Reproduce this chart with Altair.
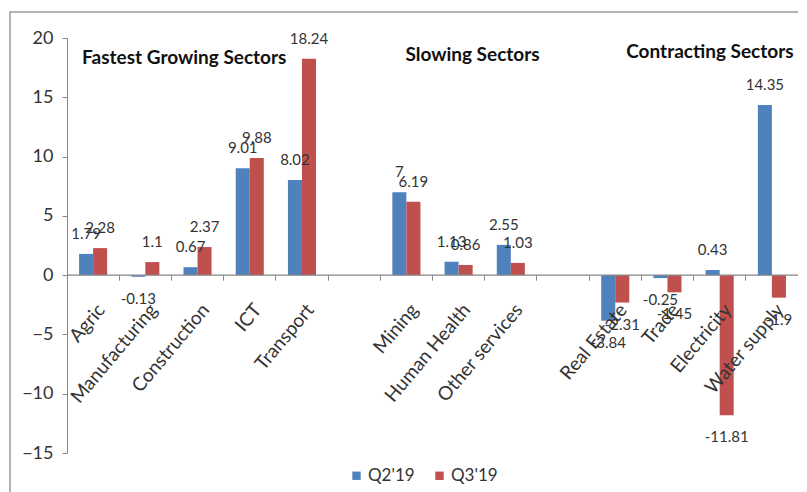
import altair as alt
import pandas as pd

sectors = ["Agric", "Manufacturing", "Construction", "ICT", "Transport",
           "Mining", "Human Health", "Other services",
           "Real Estate", "Trade", "Electricity", "Water supply"]
q2 = [1.79, -0.13, 0.67, 9.01, 8.02, 7, 1.13, 2.55, -3.84, -0.25, 0.43, 14.35]
q3 = [2.28, 1.1, 2.37, 9.88, 18.24, 6.19, 0.86, 1.03, -2.31, -1.45, -11.81, -1.9]
series = ["Q2'19", "Q3'19"]
colors = ["#4F81BD", "#C0504D"]
x_domain = sectors[:5] + ["gap_a"] + sectors[5:8] + ["gap_b"] + sectors[8:]
group_titles = ["Fastest Growing Sectors", "Slowing Sectors", "Contracting Sectors"]
group_anchor = ["Agric", "Mining", "Real Estate"]
y_ticks = [-15, -10, -5, 0, 5, 10, 15, 20]

rows = []
for s, a, b in zip(sectors, q2, q3):
    rows.append({"sector": s, "series": series[0], "value": a, "label": f"{a:g}"})
    rows.append({"sector": s, "series": series[1], "value": b, "label": f"{b:g}"})
df = pd.DataFrame(rows)
cat_df = pd.DataFrame({"sector": sectors, "zero": [0] * len(sectors)})

W, H = 731, 415
FONT = "Lato"
GRAY = "#868686"
TXT = "#333333"

xs = alt.Scale(domain=x_domain, paddingInner=0, paddingOuter=0)
x = alt.X("sector:N", scale=xs,
          axis=alt.Axis(labels=False, ticks=True, tickSize=5, bandPosition=0,
                        domain=False, offset=-H * 15 / 35, title=None,
                        tickColor=GRAY))
ys = alt.Scale(domain=[-15, 20], nice=False, zero=False)
y = alt.Y("value:Q", scale=ys,
          axis=alt.Axis(values=y_ticks, grid=False, title=None, tickSize=5,
                        labelPadding=9, labelFontSize=18, labelFont=FONT,
                        domainColor=GRAY, tickColor=GRAY, labelColor=TXT))
xo = alt.XOffset("series:N", scale=alt.Scale(domain=series, paddingInner=0, paddingOuter=0.86))

frame = alt.Chart(pd.DataFrame({"a": [0]})).mark_rect(
    fill="transparent", stroke="#9a9a9a", strokeWidth=1.5
).encode(x=alt.value(-57), x2=alt.value(780), y=alt.value(-26), y2=alt.value(500))

bars = alt.Chart(df).mark_bar().encode(
    x=x, y=y, xOffset=xo,
    color=alt.Color("series:N", scale=alt.Scale(domain=series, range=colors),
                    legend=alt.Legend(title=None, orient="none", legendX=281, legendY=429,
                                      direction="horizontal", symbolType="square",
                                      symbolSize=70, labelFontSize=17, labelFont=FONT,
                                      labelColor=TXT, columnPadding=16, labelOffset=3))
)

zero = alt.Chart(pd.DataFrame({"z": [0]})).mark_rule(color=GRAY, strokeWidth=1.2).encode(
    y=alt.Y("z:Q", scale=ys))

pos = alt.Chart(df).transform_filter("datum.value >= 0").mark_text(
    baseline="bottom", dy=-12, fontSize=15, font=FONT, color=TXT
).encode(x=x, y=y, xOffset=xo, text="label:N")

neg = alt.Chart(df).transform_filter("datum.value < 0").mark_text(
    baseline="top", dy=15, fontSize=15, font=FONT, color=TXT
).encode(x=x, y=y, xOffset=xo, text="label:N")

cats = alt.Chart(cat_df).mark_text(
    angle=310, align="right", baseline="middle", dx=-18.8, dy=26.5,
    fontSize=19, font=FONT, color=TXT
).encode(x=x, y=alt.Y("zero:Q", scale=ys), text="sector:N")

title_layers = []
title_dx = [-11, -1, 11]
title_y = [18.3, 18.55, 18.8]
for t, a, d, yy in zip(group_titles, group_anchor, title_dx, title_y):
    tdf = pd.DataFrame({"sector": [a], "t": [t], "yy": [yy]})
    title_layers.append(
        alt.Chart(tdf).mark_text(align="left", baseline="middle", dx=d, fontSize=19,
                                 fontWeight="bold", font=FONT, color="#111111")
        .encode(x=x, y=alt.Y("yy:Q", scale=ys), text="t:N")
    )

chart = alt.layer(frame, bars, zero, pos, neg, cats, *title_layers).properties(
    width=W, height=H,
    autosize=alt.AutoSizeParams(type="none"),
    padding={"left": 59, "top": 30, "right": 0, "bottom": 40},
).configure_view(stroke=None)

chart.save("out.html", embed_options={"renderer": "svg", "actions": False})
